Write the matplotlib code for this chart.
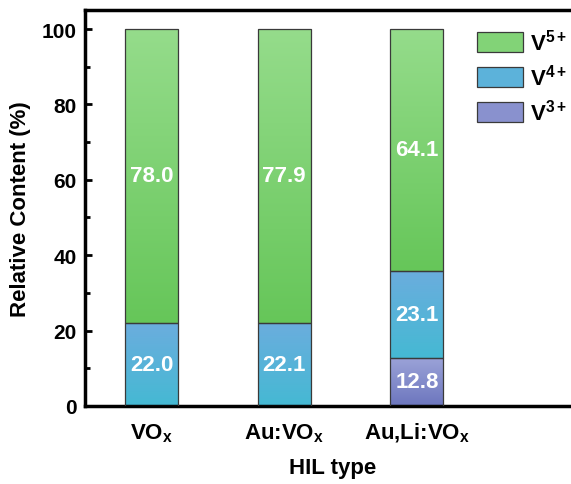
import numpy as np
import matplotlib
matplotlib.use('Agg')
import matplotlib.pyplot as plt
from matplotlib.colors import LinearSegmentedColormap
from matplotlib.patches import Patch
from matplotlib.ticker import MultipleLocator

plt.rcParams['font.family'] = 'Liberation Sans'
plt.rcParams['mathtext.fontset'] = 'custom'
plt.rcParams['mathtext.rm'] = 'Liberation Sans:bold'
plt.rcParams['mathtext.bf'] = 'Liberation Sans:bold'
plt.rcParams['mathtext.it'] = 'Liberation Sans:bold'

hil_types = ['VO$_\\mathregular{x}$', 'Au:VO$_\\mathregular{x}$', 'Au,Li:VO$_\\mathregular{x}$']
v3 = [0.0, 0.0, 12.8]
v4 = [22.0, 22.1, 23.1]
v5 = [78.0, 77.9, 64.1]

# (label, values, top colour, bottom colour) - each segment gets a vertical gradient
series = [
    ('V$^{3+}$', v3, '#9ca3d8', '#6c76be'),
    ('V$^{4+}$', v4, '#6badde', '#45b9d3'),
    ('V$^{5+}$', v5, '#95dc8b', '#66c659'),
]

fig, ax = plt.subplots(figsize=(5.71, 4.85), dpi=100)
# right edge of the frame runs off the canvas
fig.subplots_adjust(left=0.149, right=1.016, top=0.977, bottom=0.161)

x = np.arange(len(hil_types))
width = 0.4
bottom = np.zeros(len(hil_types))
grad = np.linspace(0, 1, 256).reshape(-1, 1)

handles = []
for name, vals, top_c, bot_c in series:
    cmap = LinearSegmentedColormap.from_list(name, [bot_c, top_c])
    bars = ax.bar(x, vals, width, bottom=bottom, facecolor='none',
                  edgecolor='#3a3a3a', linewidth=0.9, zorder=3)
    for b, v in zip(bars, vals):
        if v <= 0:
            b.set_visible(False)
            continue
        x0, y0 = b.get_x(), b.get_y()
        im = ax.imshow(grad, cmap=cmap, origin='lower', aspect='auto',
                       extent=(x0, x0 + b.get_width(), y0, y0 + b.get_height()),
                       zorder=2)
        im.set_clip_path(b)
        ax.text(x0 + b.get_width() / 2, y0 + v / 2, f'{v:.1f}', ha='center',
                va='center', color='white', fontsize=16, fontweight='bold', zorder=4)
    bottom = bottom + np.array(vals)
    handles.append(Patch(facecolor=cmap(0.6), edgecolor='#3a3a3a', linewidth=0.9, label=name))

ax.set_xlim(-0.50, 3.23)
ax.set_ylim(0, 105)
ax.set_xticks(x)
ax.set_xticklabels(hil_types, fontsize=16, fontweight='bold')
ax.tick_params(axis='x', length=0, pad=11)
ax.yaxis.set_major_locator(MultipleLocator(20))
ax.yaxis.set_minor_locator(MultipleLocator(10))
ax.tick_params(axis='y', which='major', direction='in', length=5, width=2,
               labelsize=15, pad=6)
ax.tick_params(axis='y', which='minor', direction='in', length=3.5, width=2)
for lbl in ax.get_yticklabels():
    lbl.set_fontweight('bold')
for s in ax.spines.values():
    s.set_linewidth(2.5)

ax.set_xlabel('HIL type', fontsize=16, fontweight='bold', labelpad=9)
ax.set_ylabel('Relative Content (%)', fontsize=16, fontweight='bold', labelpad=8)

ax.legend(handles=handles[::-1], loc='upper left', frameon=False,
          prop={'size': 16, 'weight': 'bold'}, handlelength=2.1, handleheight=1.0,
          labelspacing=0.4, handletextpad=0.3, borderpad=0, borderaxespad=0,
          bbox_to_anchor=(0.835, 0.938), bbox_transform=fig.transFigure)

fig.savefig('out.png', dpi=100)
